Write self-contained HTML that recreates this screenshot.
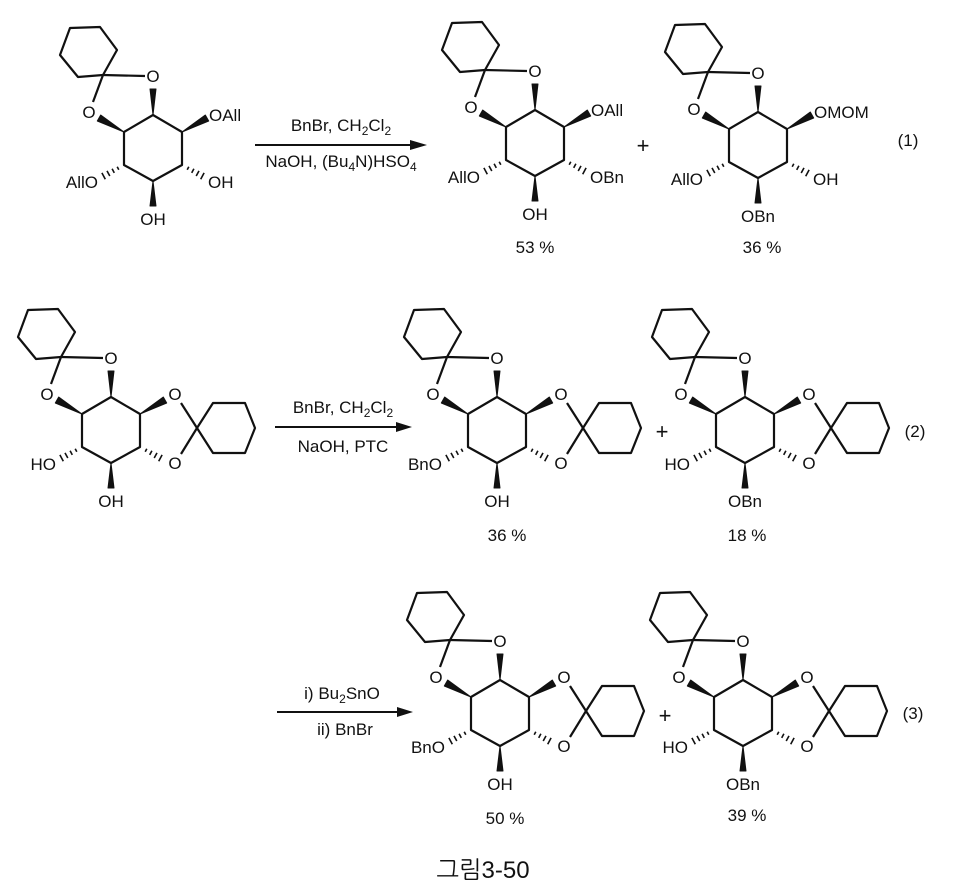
<!DOCTYPE html>
<html><head><meta charset="utf-8"><style>
html,body{margin:0;padding:0;background:#fff;}
svg{display:block;}
text{font-family:"Liberation Sans","NanumGothic",sans-serif;font-size:17px;fill:#111;}
</style></head><body>
<svg width="963" height="886" viewBox="0 0 963 886" xmlns="http://www.w3.org/2000/svg">
<defs>
<g id="core" stroke="#111" stroke-width="2.2" fill="none" stroke-linejoin="round">
  <polygon points="0,-33 29,-16 29,17 0,33 -29,17 -29,-16"/>
  <polyline points="-50,-73 -75,-71 -93,-93 -83,-120 -53,-121 -36,-98 -50,-73"/>
  <line x1="-50" y1="-73" x2="-8" y2="-72"/>
  <line x1="-50" y1="-73" x2="-60" y2="-46"/>
  <polygon points="0,-33 -3,-59 3,-59" fill="#111" stroke-width="1"/>
  <polygon points="-29,-16 -52.3,-33 -55.7,-27" fill="#111" stroke-width="1"/>
  <polygon points="29,-16 52.3,-33 55.7,-27" fill="#111" stroke-width="1"/>
  <polygon points="0,33 -3,58 3,58" fill="#111" stroke-width="1"/>
  <g stroke-width="1.6">
    <line x1="34.2" y1="21.8" x2="35.8" y2="18.7"/>
    <line x1="38.7" y1="24.9" x2="40.9" y2="20.8"/>
    <line x1="43.2" y1="28.05" x2="46.0" y2="22.85"/>
    <line x1="47.7" y1="31.2" x2="51.1" y2="24.9"/>
    <line x1="-34.2" y1="21.8" x2="-35.8" y2="18.7"/>
    <line x1="-38.7" y1="24.9" x2="-40.9" y2="20.8"/>
    <line x1="-43.2" y1="28.05" x2="-46.0" y2="22.85"/>
    <line x1="-47.7" y1="31.2" x2="-51.1" y2="24.9"/>
  </g>
</g>
<g id="diox" stroke="#111" stroke-width="2.2" fill="none" stroke-linejoin="round">
  <line x1="86" y1="-2" x2="70" y2="-27"/>
  <line x1="86" y1="-2" x2="70" y2="24"/>
  <polygon points="86,-2 102,-27 134,-27 144,-2 134,23 102,23"/>
</g>
</defs>

<g transform="translate(153,148)">
  <use href="#core"/>
  <text x="0" y="-66" text-anchor="middle">O</text>
  <text x="-64" y="-30" text-anchor="middle">O</text>
  <text x="56" y="-27">OAll</text>
  <text x="55" y="40">OH</text>
  <text x="-55" y="40" text-anchor="end">AllO</text>
  <text x="0" y="77" text-anchor="middle">OH</text>
</g>
<line x1="255" y1="145" x2="420" y2="145" stroke="#111" stroke-width="2"/>
<polygon points="427,145 410,140 410,150" fill="#111"/>
<text x="341" y="131" text-anchor="middle">BnBr, CH<tspan font-size="12" dy="4">2</tspan><tspan dy="-4">Cl</tspan><tspan font-size="12" dy="4">2</tspan></text>
<text x="341" y="167" text-anchor="middle">NaOH, (Bu<tspan font-size="12" dy="4">4</tspan><tspan dy="-4">N)HSO</tspan><tspan font-size="12" dy="4">4</tspan></text>
<g transform="translate(535,143)">
  <use href="#core"/>
  <text x="0" y="-66" text-anchor="middle">O</text>
  <text x="-64" y="-30" text-anchor="middle">O</text>
  <text x="56" y="-27">OAll</text>
  <text x="55" y="40">OBn</text>
  <text x="-55" y="40" text-anchor="end">AllO</text>
  <text x="0" y="77" text-anchor="middle">OH</text>
  <text x="0" y="110" text-anchor="middle">53 %</text>
</g>
<text x="643" y="153" text-anchor="middle" style="font-size:22px">+</text>
<g transform="translate(758,145)">
  <use href="#core"/>
  <text x="0" y="-66" text-anchor="middle">O</text>
  <text x="-64" y="-30" text-anchor="middle">O</text>
  <text x="56" y="-27">OMOM</text>
  <text x="55" y="40">OH</text>
  <text x="-55" y="40" text-anchor="end">AllO</text>
  <text x="0" y="77" text-anchor="middle">OBn</text>
  <text x="4" y="108" text-anchor="middle">36 %</text>
</g>
<text x="908" y="146" text-anchor="middle">(1)</text>

<g transform="translate(111,430)">
  <use href="#core"/><use href="#diox"/>
  <text x="0" y="-66" text-anchor="middle">O</text>
  <text x="-64" y="-30" text-anchor="middle">O</text>
  <text x="64" y="-30" text-anchor="middle">O</text>
  <text x="64" y="39" text-anchor="middle">O</text>
  <text x="-55" y="40" text-anchor="end">HO</text>
  <text x="0" y="77" text-anchor="middle">OH</text>
</g>
<line x1="275" y1="427" x2="405" y2="427" stroke="#111" stroke-width="2"/>
<polygon points="412,427 396,422 396,432" fill="#111"/>
<text x="343" y="413" text-anchor="middle">BnBr, CH<tspan font-size="12" dy="4">2</tspan><tspan dy="-4">Cl</tspan><tspan font-size="12" dy="4">2</tspan></text>
<text x="343" y="452" text-anchor="middle">NaOH, PTC</text>
<g transform="translate(497,430)">
  <use href="#core"/><use href="#diox"/>
  <text x="0" y="-66" text-anchor="middle">O</text>
  <text x="-64" y="-30" text-anchor="middle">O</text>
  <text x="64" y="-30" text-anchor="middle">O</text>
  <text x="64" y="39" text-anchor="middle">O</text>
  <text x="-55" y="40" text-anchor="end">BnO</text>
  <text x="0" y="77" text-anchor="middle">OH</text>
  <text x="10" y="111" text-anchor="middle">36 %</text>
</g>
<text x="662" y="439" text-anchor="middle" style="font-size:22px">+</text>
<g transform="translate(745,430)">
  <use href="#core"/><use href="#diox"/>
  <text x="0" y="-66" text-anchor="middle">O</text>
  <text x="-64" y="-30" text-anchor="middle">O</text>
  <text x="64" y="-30" text-anchor="middle">O</text>
  <text x="64" y="39" text-anchor="middle">O</text>
  <text x="-55" y="40" text-anchor="end">HO</text>
  <text x="0" y="77" text-anchor="middle">OBn</text>
  <text x="2" y="111" text-anchor="middle">18 %</text>
</g>
<text x="915" y="437" text-anchor="middle">(2)</text>

<line x1="277" y1="712" x2="406" y2="712" stroke="#111" stroke-width="2"/>
<polygon points="413,712 397,707 397,717" fill="#111"/>
<text x="342" y="699" text-anchor="middle">i) Bu<tspan font-size="12" dy="4">2</tspan><tspan dy="-4">SnO</tspan></text>
<text x="345" y="735" text-anchor="middle">ii) BnBr</text>
<g transform="translate(500,713)">
  <use href="#core"/><use href="#diox"/>
  <text x="0" y="-66" text-anchor="middle">O</text>
  <text x="-64" y="-30" text-anchor="middle">O</text>
  <text x="64" y="-30" text-anchor="middle">O</text>
  <text x="64" y="39" text-anchor="middle">O</text>
  <text x="-55" y="40" text-anchor="end">BnO</text>
  <text x="0" y="77" text-anchor="middle">OH</text>
  <text x="5" y="111" text-anchor="middle">50 %</text>
</g>
<text x="665" y="723" text-anchor="middle" style="font-size:22px">+</text>
<g transform="translate(743,713)">
  <use href="#core"/><use href="#diox"/>
  <text x="0" y="-66" text-anchor="middle">O</text>
  <text x="-64" y="-30" text-anchor="middle">O</text>
  <text x="64" y="-30" text-anchor="middle">O</text>
  <text x="64" y="39" text-anchor="middle">O</text>
  <text x="-55" y="40" text-anchor="end">HO</text>
  <text x="0" y="77" text-anchor="middle">OBn</text>
  <text x="4" y="108" text-anchor="middle">39 %</text>
</g>
<text x="913" y="719" text-anchor="middle">(3)</text>

<text x="483" y="878" text-anchor="middle" style="font-size:24px;font-family:'Liberation Sans','NanumGothic','Noto Sans CJK KR',sans-serif">그림3-50</text>
</svg>
</body></html>
